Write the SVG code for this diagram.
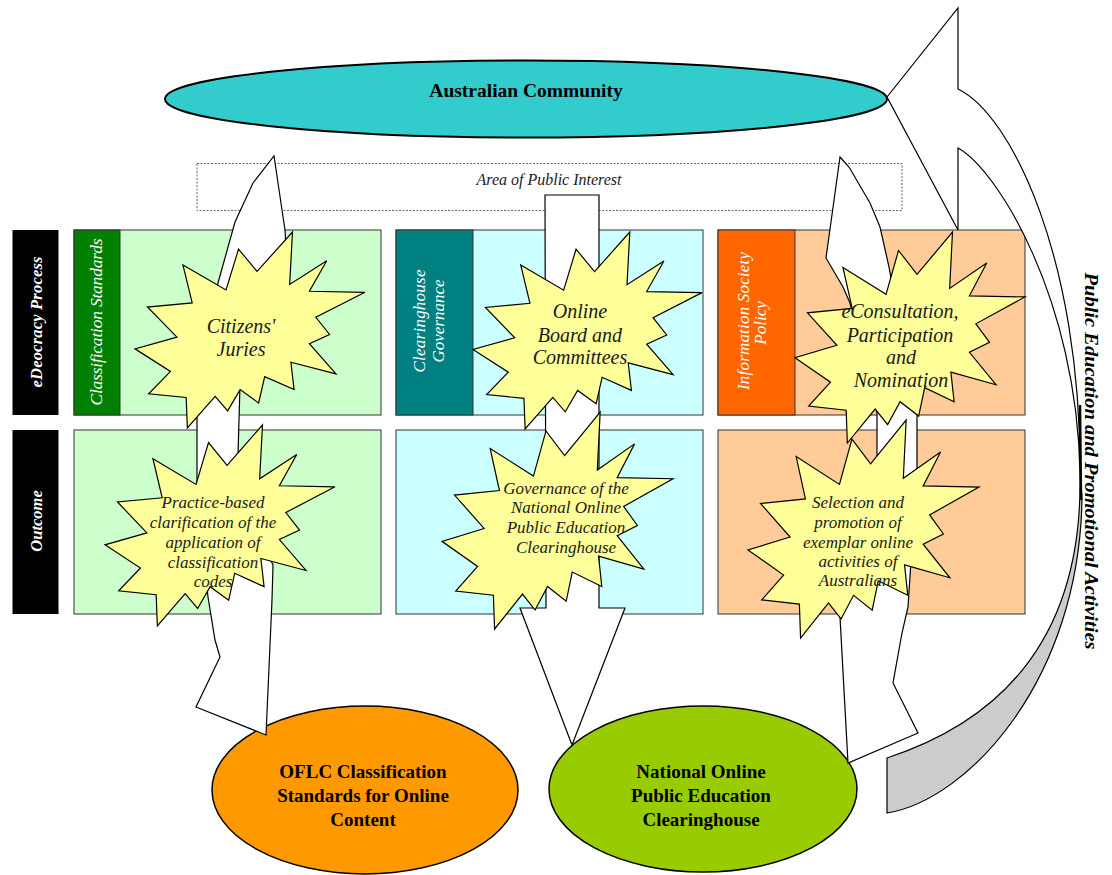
<svg xmlns="http://www.w3.org/2000/svg" xmlns:xlink="http://www.w3.org/1999/xlink" width="1112" height="875" viewBox="0 0 1112 875">
<style>
.t{font-family:'Liberation Serif','Times New Roman',serif}
.it{font-style:italic}
.b{font-weight:bold}
.box{stroke:#333;stroke-width:1}
.lbl{fill:#000}
.wt{fill:#fff}
.star{fill:#FFFF99;stroke:#000;stroke-width:1.2}
.arr{fill:#fff;stroke:#000;stroke-width:1.2;stroke-linejoin:miter}
.st{fill:#1a1a1a;font-size:17px}
.sl{fill:#1a1a1a;font-size:20px}
.el{fill:#000;font-size:19px}
</style>
<defs>
<path id="burst" vector-effect="non-scaling-stroke" d="M114.62,43.42 L147.9,0 L145.25,57.77 L180.07,31.72 L163.8,65.32 L216,66.45 L169.85,94.02 L182.7,112.9 L163.8,123.1 L188.77,156.32 L146.4,143.5 L149.42,173.7 L121.8,159.35 L116.12,188.42 L98.72,173.7 L87,197.12 L75.27,181.25 L49.17,216 L48.05,182.4 L12.85,178.25 L33.3,153.7 L0,128.77 L39.35,115.92 L11.72,82.7 L53.72,78.17 L45.02,36.25 L85.5,63.82 L97.22,18.87 Z"/>
</defs>
<rect width="1112" height="875" fill="#fff"/>

<g id="community">
<ellipse cx="526" cy="99" rx="361" ry="38.5" fill="#33CCCC" stroke="#000" stroke-width="2"/>
<text class="t b" x="526" y="97" text-anchor="middle" font-size="19.5">Australian Community</text>
</g>

<g id="oflc">
<ellipse cx="365" cy="790" rx="153" ry="84" fill="#FF9900" stroke="#000" stroke-width="1.5"/>
<text class="t b el" text-anchor="middle"><tspan x="363" y="778">OFLC Classification</tspan><tspan x="363" y="802">Standards for Online</tspan><tspan x="363" y="826">Content</tspan></text>
</g>

<g id="clearinghouse">
<ellipse cx="703" cy="789" rx="154" ry="83" fill="#99CC00" stroke="#000" stroke-width="1.5"/>
<text class="t b el" text-anchor="middle"><tspan x="701" y="778">National Online</tspan><tspan x="701" y="802">Public Education</tspan><tspan x="701" y="826">Clearinghouse</tspan></text>
</g>

<g id="row-labels">
<rect x="12.5" y="230" width="46" height="185" class="lbl"/>
<text class="t b it wt" font-size="16.5" transform="translate(42,322) rotate(-90)" text-anchor="middle" textLength="131" lengthAdjust="spacing">eDeocracy Process</text>
<rect x="12.5" y="430" width="46" height="184" class="lbl"/>
<text class="t b it wt" font-size="16.5" transform="translate(42,521) rotate(-90)" text-anchor="middle">Outcome</text>
</g>

<g id="col1">
<rect x="74" y="230" width="307" height="185" fill="#CCFFCC" class="box"/>
<rect x="74" y="230" width="46" height="185" fill="#008000" class="box"/>
<text class="t it wt" font-size="17.5" transform="translate(102,322) rotate(-90)" text-anchor="middle" textLength="167" lengthAdjust="spacing">Classification Standards</text>
<rect x="74" y="430" width="307" height="184" fill="#CCFFCC" class="box"/>
</g>
<g id="col2">
<rect x="396" y="230" width="307" height="185" fill="#CCFFFF" class="box"/>
<rect x="396" y="230" width="77" height="185" fill="#008080" class="box"/>
<text class="t it wt" font-size="17" transform="translate(425,321) rotate(-90)" text-anchor="middle" textLength="103" lengthAdjust="spacing">Clearinghouse</text>
<text class="t it wt" font-size="17" transform="translate(444,321) rotate(-90)" text-anchor="middle" textLength="83" lengthAdjust="spacing">Governance</text>
<rect x="396" y="430" width="307" height="184" fill="#CCFFFF" class="box"/>
</g>
<g id="col3">
<rect x="718" y="230" width="307" height="185" fill="#FFCC99" class="box"/>
<rect x="718" y="230" width="77" height="185" fill="#FF6600" class="box"/>
<text class="t it wt" font-size="17" transform="translate(749,321) rotate(-90)" text-anchor="middle" textLength="138" lengthAdjust="spacing">Information Society</text>
<text class="t it wt" font-size="17" transform="translate(766,323) rotate(-90)" text-anchor="middle">Policy</text>
<rect x="718" y="430" width="307" height="184" fill="#FFCC99" class="box"/>
</g>

<g id="public-interest">
<rect x="197" y="163.5" width="705" height="47" fill="none" stroke="#666" stroke-width="1" stroke-dasharray="2,1.5"/>
<text class="t it" x="549" y="185" text-anchor="middle" font-size="16" fill="#222">Area of Public Interest</text>
</g>

<g id="connectors">
<path id="promo-arrow-front" class="arr" d="M887,97 L958,8 L958,89 C1012,115 1081,260 1080,473 C1077,300 998,170 958,148 L958,230 Z"/>
<path id="promo-arrow-back" d="M1080,473 C1083,620 1018,715 887,758 L887,813 C968,800 1080,680 1082,497 Z" fill="#CCCCCC" stroke="#000" stroke-width="1.2"/>
<line x1="1080" y1="405" x2="1081" y2="500" stroke="#000" stroke-width="2.5"/>
<polygon class="arr" points="274,156 285,230 289,300 240,385 237,490 273,565 272,600 266,735 196,707 220,657 215,640 208,597 197,490 197,413 205,360 218,283 235,222 253,183"/>
<polygon class="arr" points="545,195 599,195 599,608 625,608 572,745 520,608 546,608"/>
<polygon class="arr" points="840,157 849,167 870,203 880,227 889,267 895,300 917,380 917,470 908,607 902,633 893,683 918,733 848,763 840,617 860,560 877,470 877,413 850,303 843,287 826,258"/>
</g>

<g id="citizens-juries">
<use xlink:href="#burst" class="star" transform="translate(135,232) scale(1.0648,0.9074)"/>
<text class="t it sl" text-anchor="middle"><tspan x="241" y="333">Citizens'</tspan><tspan x="241" y="356">Juries</tspan></text>
</g>
<g id="practice-based">
<use xlink:href="#burst" class="star" transform="translate(105,425) scale(1.0648,0.9306)"/>
<text class="t it st" text-anchor="middle"><tspan x="213" y="508">Practice-based</tspan><tspan x="213" y="528">clarification of the</tspan><tspan x="213" y="548">application of</tspan><tspan x="213" y="568">classification</tspan><tspan x="213" y="587">codes</tspan></text>
</g>
<g id="online-board">
<use xlink:href="#burst" class="star" transform="translate(473,232) scale(1.0602,0.912)"/>
<text class="t it sl" text-anchor="middle"><tspan x="580" y="318">Online</tspan><tspan x="580" y="342">Board and</tspan><tspan x="580" y="364">Committees</tspan></text>
</g>
<g id="governance">
<use xlink:href="#burst" class="star" transform="translate(442,412) scale(1.0694,1.0046)"/>
<text class="t it st" text-anchor="middle"><tspan x="566" y="494">Governance of the</tspan><tspan x="566" y="513">National Online</tspan><tspan x="566" y="533">Public Education</tspan><tspan x="566" y="553">Clearinghouse</tspan></text>
</g>
<g id="econsultation">
<use xlink:href="#burst" class="star" transform="translate(795,232) scale(1.0648,0.9769)"/>
<text class="t it sl" text-anchor="middle"><tspan x="900" y="318">eConsultation,</tspan><tspan x="900" y="342">Participation</tspan><tspan x="901" y="364">and</tspan><tspan x="901" y="387">Nomination</tspan></text>
</g>
<g id="selection">
<use xlink:href="#burst" class="star" transform="translate(748,420) scale(1.0694,1.0093)"/>
<text class="t it st" text-anchor="middle"><tspan x="858" y="508">Selection and</tspan><tspan x="858" y="528">promotion of</tspan><tspan x="858" y="548">exemplar online</tspan><tspan x="858" y="567">activities of</tspan><tspan x="858" y="586">Australians</tspan></text>
</g>

<g id="promo-label">
<text class="t b it" font-size="18" transform="translate(1085,461) rotate(90)" text-anchor="middle" textLength="377" lengthAdjust="spacingAndGlyphs">Public Education and Promotional Activities</text>
</g>
</svg>
